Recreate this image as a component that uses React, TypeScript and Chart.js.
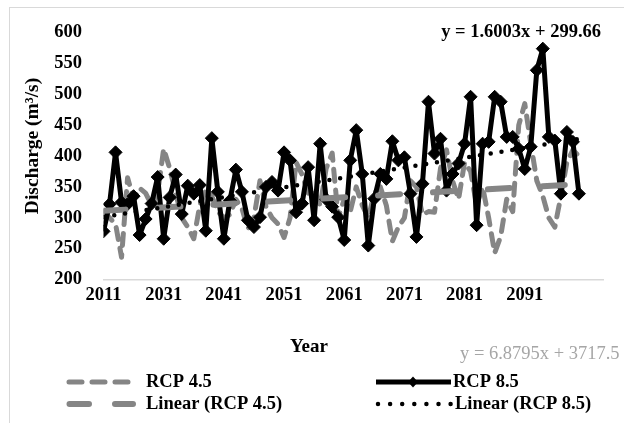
import React, { useEffect, useRef } from 'react';
import { Chart, registerables } from 'chart.js';

Chart.register(...registerables);

// Category labels shown every 10 periods along the x axis
const tickYears = ['2011', '2031', '2041', '2051', '2061', '2071', '2081', '2091'];

// Annual discharge (m³/s), RCP 4.5 scenario
const rcp45 = [
  310, 300, 290, 236, 365, 330, 348, 340, 320, 340,
  412, 380, 340, 300, 285, 266, 320, 345, 335, 310,
  300, 305, 330, 315, 282, 300, 360, 318, 300, 290,
  268, 300, 390, 370, 340, 345, 320, 380, 405, 300,
  330, 310, 350, 320, 300, 340, 350, 320, 262, 285,
  300, 360, 350, 305, 310, 309, 380, 410, 360, 330,
  390, 375, 320, 350, 300, 243, 270, 330, 310, 450,
  485, 420, 360, 335, 300, 285, 335, 390, 410, 400,
];

// Annual discharge (m³/s), RCP 8.5 scenario
const rcp85 = [
  278, 322, 406, 325, 322, 335, 272, 298, 323, 366,
  266, 333, 370, 306, 352, 339, 353, 279, 429, 342,
  266, 328, 378, 342, 296, 285, 301, 350, 358, 344,
  406, 393, 309, 323, 382, 296, 420, 330, 318, 301,
  264, 393, 442, 371, 255, 331, 371, 363, 424, 393,
  398, 339, 269, 355, 488, 404, 428, 344, 371, 388,
  420, 496, 288, 420, 423, 496, 488, 431, 431, 412,
  379, 415, 539, 574, 431, 425, 339, 439, 423, 339,
];

// Trend equation of RCP 8.5: [slope, intercept], x counted from 1
const rcp85Trend = [1.6003, 299.66];
// Equation text printed beside the RCP 4.5 series
const rcp45EquationText = 'y = 6.8795x + 3717.5';

const yTicks = [200, 600, 50]; // min, max, step

const SERIF = '"Liberation Serif", "Times New Roman", serif';
const GRAY = '#858585';

// Least-squares line through values with x = 1..n
function fitLine(values: number[]): [number, number] {
  const n = values.length;
  let sx = 0, sy = 0, sxx = 0, sxy = 0;
  values.forEach((v, i) => {
    const x = i + 1;
    sx += x; sy += v; sxx += x * x; sxy += x * v;
  });
  const slope = (n * sxy - sx * sy) / (n * sxx - sx * sx);
  const intercept = (sy - slope * sx) / n;
  return [slope, intercept];
}

const decorations = {
  id: 'decorations',
  beforeDraw(chart: any) {
    const ctx = chart.ctx as CanvasRenderingContext2D;
    ctx.save();
    ctx.fillStyle = '#ffffff';
    ctx.fillRect(0, 0, chart.width, chart.height);
    ctx.strokeStyle = '#d9d9d9';
    ctx.lineWidth = 1;
    ctx.strokeRect(9.5, 7.5, 900, 700);
    ctx.restore();
  },
  afterDraw(chart: any) {
    const ctx = chart.ctx as CanvasRenderingContext2D;
    const [s85, b85] = rcp85Trend;
    ctx.save();
    ctx.textBaseline = 'middle';

    // Axis titles
    ctx.fillStyle = '#000';
    ctx.font = `bold 19px ${SERIF}`;
    ctx.textAlign = 'center';
    ctx.fillText('Year', 309, 347);
    ctx.save();
    ctx.translate(33, 146);
    ctx.rotate(-Math.PI / 2);
    ctx.font = `bold 19.5px ${SERIF}`;
    ctx.fillText('Discharge (m³/s)', 0, 0);
    ctx.restore();

    // Trend equations
    ctx.textAlign = 'right';
    ctx.font = `bold 18.5px ${SERIF}`;
    ctx.fillText(`y = ${s85.toFixed(4)}x + ${b85.toFixed(2)}`, 601, 32);
    ctx.textAlign = 'left';
    ctx.font = `18.5px ${SERIF}`;
    ctx.fillStyle = '#a6a6a6';
    ctx.fillText(rcp45EquationText, 460, 354);

    // Legend
    const row1 = 382;
    const row2 = 404;
    ctx.lineCap = 'round';

    ctx.strokeStyle = GRAY;
    ctx.lineWidth = 5;
    ctx.setLineDash([13, 10]);
    ctx.beginPath(); ctx.moveTo(69, row1); ctx.lineTo(128, row1); ctx.stroke();

    ctx.lineWidth = 6;
    ctx.setLineDash([19.5, 26]);
    ctx.beginPath(); ctx.moveTo(69.5, row2); ctx.lineTo(133, row2); ctx.stroke();

    ctx.strokeStyle = '#000';
    ctx.lineWidth = 5;
    ctx.setLineDash([]);
    ctx.lineCap = 'butt';
    ctx.beginPath(); ctx.moveTo(376, row1); ctx.lineTo(451, row1); ctx.stroke();
    ctx.fillStyle = '#000';
    ctx.beginPath();
    ctx.moveTo(413, row1 - 5.5); ctx.lineTo(418, row1); ctx.lineTo(413, row1 + 5.5); ctx.lineTo(408, row1);
    ctx.closePath(); ctx.fill();

    ctx.lineCap = 'round';
    ctx.lineWidth = 4.5;
    ctx.setLineDash([0, 12.1]);
    ctx.beginPath(); ctx.moveTo(378, row2); ctx.lineTo(451, row2); ctx.stroke();
    ctx.setLineDash([]);

    ctx.fillStyle = '#000';
    ctx.font = `bold 18.5px ${SERIF}`;
    ctx.textAlign = 'left';
    ctx.fillText('RCP 4.5', 146, row1);
    ctx.fillText('Linear (RCP 4.5)', 146, row2);
    ctx.fillText('RCP 8.5', 453, row1);
    ctx.fillText('Linear (RCP 8.5)', 455, row2);

    ctx.restore();
  },
};

export default function App() {
  const canvasRef = useRef<HTMLCanvasElement>(null);

  useEffect(() => {
    const canvas = canvasRef.current;
    if (!canvas) return;

    const n = rcp85.length;
    const [s45, b45] = fitLine(rcp45);
    const [s85, b85] = rcp85Trend;
    const trendEnds = [0, n];
    const trendPoints = (s: number, b: number) => trendEnds.map((i) => ({ x: i, y: s * (i + 1) + b }));
    const toPoints = (arr: number[]) => arr.map((v, i) => ({ x: i, y: v }));

    const chart = new Chart(canvas, {
      type: 'line',
      data: {
        datasets: [
          {
            label: 'Linear (RCP 8.5)',
            data: trendPoints(s85, b85),
            borderColor: '#000',
            borderWidth: 4.5,
            borderDash: [0, 10.9],
            borderCapStyle: 'round',
            pointRadius: 0,
            order: 0,
          },
          {
            label: 'Linear (RCP 4.5)',
            data: trendPoints(s45, b45),
            borderColor: GRAY,
            borderWidth: 6,
            borderDash: [22, 33],
            borderCapStyle: 'round',
            pointRadius: 0,
            order: 1,
          },
          {
            label: 'RCP 8.5',
            data: toPoints(rcp85),
            borderColor: '#000',
            borderWidth: 5,
            borderJoinStyle: 'round',
            pointStyle: 'rectRot',
            pointRadius: 6.5,
            pointBackgroundColor: '#000',
            pointBorderColor: '#000',
            pointBorderWidth: 1,
            order: 2,
          },
          {
            label: 'RCP 4.5',
            data: toPoints(rcp45),
            borderColor: GRAY,
            borderWidth: 5,
            borderDash: [12, 9],
            borderCapStyle: 'round',
            borderJoinStyle: 'round',
            pointRadius: 0,
            order: 3,
          },
        ],
      },
      options: {
        responsive: false,
        devicePixelRatio: 1,
        animation: false,
        layout: { padding: { left: 0, right: 21, top: 31.5, bottom: 0 } },
        plugins: {
          legend: { display: false },
          tooltip: { enabled: false },
        },
        scales: {
          x: {
            type: 'linear',
            min: 0,
            max: 83,
            afterFit: (s: any) => { s.height = 143.5; },
            grid: { display: false, drawTicks: false },
            border: { display: true, color: '#d9d9d9', width: 1.5 },
            ticks: {
              stepSize: 10,
              autoSkip: false,
              maxRotation: 0,
              padding: 5,
              color: '#000',
              font: { family: SERIF, size: 18.5, weight: 'bold' },
              callback: (v: any) => {
                const k = Number(v) / 10;
                return Number.isInteger(k) && k < tickYears.length ? tickYears[k] : '';
              },
            },
          },
          y: {
            type: 'linear',
            min: yTicks[0],
            max: yTicks[1],
            afterFit: (s: any) => { s.width = 103.5; },
            grid: { display: false, drawTicks: false },
            border: { display: false },
            ticks: {
              stepSize: yTicks[2],
              padding: 21.5,
              color: '#000',
              font: { family: SERIF, size: 18.5, weight: 'bold' },
            },
          },
        },
      },
      plugins: [decorations],
    } as any);

    return () => chart.destroy();
  }, []);

  return (
    <div style={{ position: 'fixed', left: 0, top: 0, width: 624, height: 423 }}>
      <canvas ref={canvasRef} width={624} height={423} style={{ display: 'block', width: 624, height: 423 }} />
    </div>
  );
}
